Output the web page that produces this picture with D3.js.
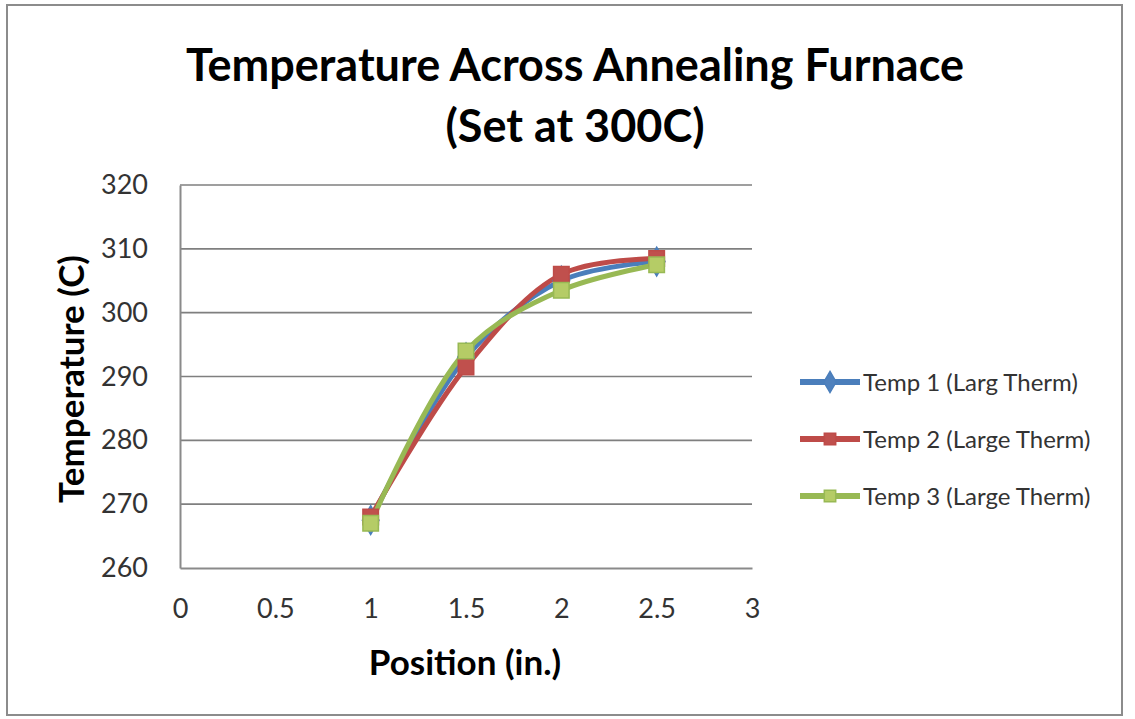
<!DOCTYPE html>
<html><head><meta charset="utf-8">
<script src="https://cdn.jsdelivr.net/npm/d3@7"></script>
<style>body{margin:0;background:#fff}svg{display:block}</style>
</head><body><svg id="c" width="1135" height="719"></svg>
<script>
const positions = [1, 1.5, 2, 2.5];
const temp1 = [267.5, 293, 305, 308];
const temp2 = [268, 291.5, 306, 308.5];
const temp3 = [267, 294, 303.5, 307.5];
const seriesNames = ["Temp 1 (Larg Therm)", "Temp 2 (Large Therm)", "Temp 3 (Large Therm)"];
const xTicks = [0, 0.5, 1, 1.5, 2, 2.5, 3];
const yTicks = [260, 270, 280, 290, 300, 310, 320];
const titleLines = ["Temperature Across Annealing Furnace", "(Set at 300C)"];

const colors = ["#4A7EBB", "#BE4B48", "#98B954"];
const fills = ["#4F81BD", "#C0504D", "#B5CC66"];
const shapes = [d3.symbolDiamond, d3.symbolSquare, d3.symbolSquare];
const series = [temp1, temp2, temp3];

const svg = d3.select("#c");
const font = "Lato, 'Open Sans', sans-serif";
svg.append("rect").attr("x", 7).attr("y", 5).attr("width", 1115).attr("height", 710)
  .attr("fill", "#fff").attr("stroke", "#8c8c8c").attr("stroke-width", 2);

const L = 180, R = 752, T = 185, B = 568;
const x = d3.scaleLinear().domain([0, 3]).range([L, R]);
const y = d3.scaleLinear().domain([260, 320]).range([B, T]);

// gridlines
svg.append("g").selectAll("line").data(yTicks.slice(1)).join("line")
  .attr("x1", L).attr("x2", R).attr("y1", d => y(d)).attr("y2", d => y(d))
  .attr("stroke", "#7f7f7f").attr("stroke-width", 1.6);

// axes
const ya = svg.append("g").attr("transform", `translate(${L},0)`)
  .call(d3.axisLeft(y).tickValues(yTicks).tickSize(0).tickPadding(32));
const xa = svg.append("g").attr("transform", `translate(0,${B})`)
  .call(d3.axisBottom(x).tickValues(xTicks).tickSize(0).tickPadding(31).tickFormat(d3.format("")));
[ya, xa].forEach(g => {
  g.select(".domain").attr("stroke", "#8a8a8a").attr("stroke-width", 2);
  g.selectAll("text").attr("font-family", font).attr("font-size", 27).attr("fill", "#333");
});

// lines
const line = d3.line().x((d, i) => x(positions[i])).y(d => y(d)).curve(d3.curveCatmullRom.alpha(0.5));
series.forEach((s, k) => {
  svg.append("path").datum(s).attr("d", line).attr("fill", "none")
    .attr("stroke", colors[k]).attr("stroke-width", 5).attr("stroke-linejoin", "round");
});
series.forEach((s, k) => {
  svg.append("g").selectAll("path").data(s).join("path")
    .attr("transform", (d, i) => `translate(${x(positions[i])},${y(d)})`)
    .attr("d", d3.symbol().type(shapes[k]).size(240))
    .attr("fill", fills[k]).attr("stroke", colors[k]).attr("stroke-width", 1.5);
});

// title
svg.append("g").selectAll("text").data(titleLines).join("text")
  .attr("x", 575).attr("y", (d, i) => 81 + i * 61).attr("text-anchor", "middle")
  .attr("font-family", font).attr("font-weight", "bold").attr("font-size", 45).attr("fill", "#000")
  .text(d => d);

// axis titles
svg.append("text").attr("transform", "translate(84,379) rotate(-90)").attr("text-anchor", "middle")
  .attr("font-family", font).attr("font-weight", "bold").attr("font-size", 35).attr("fill", "#000")
  .text("Temperature (C)");
svg.append("text").attr("x", 465).attr("y", 675).attr("text-anchor", "middle")
  .attr("font-family", font).attr("font-weight", "bold").attr("font-size", 35).attr("fill", "#000")
  .text("Position (in.)");

// legend
const lg = svg.append("g").selectAll("g").data(seriesNames).join("g")
  .attr("transform", (d, i) => `translate(800,${382 + i * 57})`);
lg.append("line").attr("x1", 0).attr("x2", 60).attr("stroke", (d, i) => colors[i]).attr("stroke-width", 6);
lg.append("path").attr("transform", "translate(30,0)")
  .attr("d", (d, i) => d3.symbol().type(shapes[i]).size(130)())
  .attr("fill", (d, i) => fills[i]).attr("stroke", (d, i) => colors[i]).attr("stroke-width", 1.5);
lg.append("text").attr("x", 63).attr("y", 9).attr("font-family", font).attr("font-size", 24)
  .attr("fill", "#333").text(d => d);
</script></body></html>
